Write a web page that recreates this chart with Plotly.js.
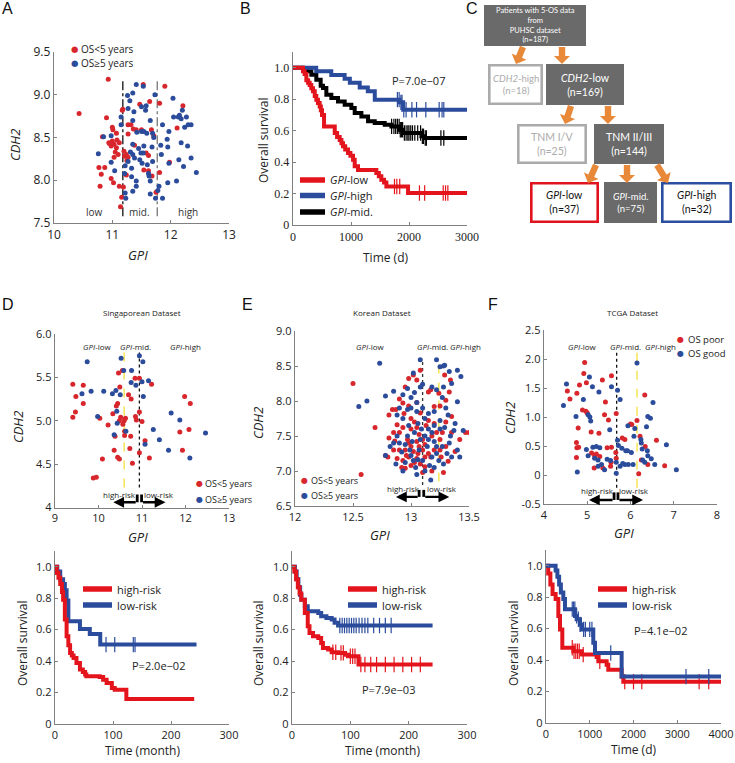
<!DOCTYPE html>
<html><head><meta charset="utf-8">
<script src="https://cdn.plot.ly/plotly-3.0.1.min.js"></script>
<style>html,body{margin:0;padding:0;background:#fff}#chart{width:735px;height:763px}</style>
</head><body><div id="chart"></div>
<script>
// ---------------- DATA ----------------
// Panel A: PUHSC dataset, [GPI, CDH2]
const A_poor = [[10.93,9.18],[10.43,8.78],[10.9,8.73],[11.0,8.62],[11.01,8.59],[10.83,8.51],[11.07,8.55],[10.94,8.44],[11.0,8.46],[11.03,8.42],[10.98,8.4],[11.07,8.38],[11.05,8.33],[11.12,8.44],[11.1,8.3],[11.03,8.27],[10.87,8.15],[10.77,8.15],[10.81,8.07],[10.79,7.93],[10.98,8.02],[11.02,7.97],[11.12,7.93],[11.16,7.8],[11.14,7.69],[11.18,8.83],[11.17,8.82],[11.27,8.65],[11.32,8.65],[11.27,8.54],[11.38,8.41],[11.24,8.3],[11.21,8.28],[11.27,8.27],[11.25,8.23],[11.24,8.06],[11.19,7.92],[11.41,8.59],[11.47,8.89],[11.53,9.12],[11.5,8.59],[11.67,8.59],[11.64,8.92],[11.58,8.32],[11.62,8.29],[11.71,8.52],[11.54,8.12],[11.62,8.11],[11.68,8.05],[11.75,7.86],[11.81,8.9],[11.81,8.09],[11.9,9.1],[12.11,8.61],[12.21,8.87],[11.98,8.21],[11.36,8.6],[11.08,8.47],[10.95,8.43],[11.2,8.34]];
const A_good = [[10.76,8.31],[10.85,8.51],[10.98,8.52],[10.98,8.21],[11.04,8.11],[11.15,8.74],[11.15,8.65],[11.22,8.17],[11.21,8.08],[11.22,7.85],[11.23,7.79],[11.26,8.99],[11.3,8.93],[11.35,9.02],[11.41,9.12],[11.53,9.1],[11.27,8.84],[11.37,8.8],[11.35,8.7],[11.42,8.56],[11.5,8.57],[11.54,8.57],[11.35,8.42],[11.31,8.33],[11.35,8.3],[11.38,8.26],[11.47,8.24],[11.51,8.2],[11.33,8.14],[11.33,8.04],[11.41,7.99],[11.41,7.93],[11.35,7.87],[11.5,8.86],[11.57,8.82],[11.58,8.87],[11.54,8.4],[11.49,8.32],[11.53,8.32],[11.6,8.18],[11.62,8.08],[11.63,8.05],[11.65,8.7],[11.69,8.55],[11.68,8.39],[11.69,8.22],[11.65,7.99],[11.65,7.84],[11.73,9.0],[11.71,8.5],[11.74,7.79],[11.78,7.88],[11.8,7.93],[11.83,8.41],[11.84,8.3],[11.86,7.79],[11.86,8.65],[11.94,8.48],[11.95,8.39],[11.97,8.57],[11.97,8.2],[11.95,7.97],[12.04,8.96],[12.05,8.74],[12.1,7.99],[12.13,8.74],[12.15,8.76],[12.18,8.72],[12.14,8.24],[12.2,8.82],[12.24,8.62],[12.18,8.44],[12.22,8.16],[12.27,8.74],[12.3,8.65],[12.35,8.65],[12.29,8.4],[12.35,8.26],[12.44,8.09],[11.27,8.22],[11.59,8.55],[11.45,8.37]];
const A_cuts = [11.18, 11.77];
const A_zoneLabels = ['low','mid.','high'];
const A_zoneX = [10.69, 11.46, 12.3];

// Panel B: Kaplan-Meier, time (d) vs survival
const B_low_t = [0,172,200,230,260,287,315,345,375,402,430,460,480,500,535,720,760,805,835,862,900,949,990,1035,1064,1121,1437,1480,1523,1570,1610,1984,3000];
const B_low_s = [1,0.977,0.96,0.92,0.905,0.89,0.87,0.85,0.82,0.797,0.775,0.754,0.73,0.70,0.627,0.585,0.56,0.54,0.52,0.5,0.48,0.458,0.44,0.415,0.373,0.35,0.33,0.31,0.288,0.27,0.245,0.203,0.203];
const B_low_cens = [1750,1790,1840,2180,2270,2590,2630,2670];
const B_high_t = [0,400,660,890,980,1150,1290,1410,1840,1900,3000];
const B_high_s = [1,0.977,0.953,0.93,0.905,0.875,0.85,0.797,0.78,0.733,0.733];
const B_high_cens = [1800,1830,1860,1880,1910,1950,2050,2130,2290,2520,2570,2600];
const B_mid_t = [0,172,230,316,402,477,517,575,661,776,891,1006,1064,1179,1294,1409,1581,1696,1840,1898,2214,2271,3000];
const B_mid_s = [1,0.985,0.977,0.955,0.924,0.886,0.871,0.828,0.807,0.786,0.765,0.744,0.712,0.69,0.659,0.648,0.638,0.627,0.606,0.585,0.564,0.553,0.553];
const B_mid_cens = [1700,1740,1770,1800,1830,1850,1870,1890,1920,1950,1980,2000,2030,2060,2100,2150,2200,2230,2250,2280,2300,2550,2600];
const B_pval = 'P=7.0e\u221207';

// Panel C: flowchart
const C_labels = ['Patients with 5-OS data<br>from<br>PUHSC dataset','<i>CDH2</i>-high','<i>CDH2</i>-low','TNM I/V','TNM II/III','<i>GPI</i>-low','<i>GPI</i>-mid.','<i>GPI</i>-high'];
const C_n = [187,18,169,25,144,37,75,32];

// Panel D: Singaporean dataset
const D_poor = [[9.41,5.42],[9.65,5.41],[9.48,5.28],[9.65,5.2],[10.46,5.55],[10.55,5.58],[10.49,5.39],[10.84,5.49],[10.94,5.49],[11.22,5.42],[10.69,5.3],[10.75,5.25],[10.44,5.2],[10.41,5.17],[9.47,5.1],[9.41,5.04],[10.03,5.03],[10.94,5.1],[10.51,5.04],[10.62,5.03],[10.59,5.0],[10.85,5.05],[10.87,5.01],[11.0,4.99],[11.98,5.28],[12.11,5.2],[10.22,4.95],[10.48,5.0],[11.87,4.87],[12.08,4.9],[10.38,4.82],[10.6,4.83],[10.74,4.82],[10.72,4.68],[10.36,4.66],[10.44,4.58],[10.48,4.56],[10.78,4.51],[10.94,4.63],[11.07,4.77],[11.17,4.57],[10.09,4.56],[9.88,4.34],[9.95,4.35],[11.93,4.66],[10.33,5.08],[10.56,4.96],[10.6,4.88]];
const D_good = [[9.74,5.68],[10.52,5.72],[10.94,5.75],[11.02,5.68],[10.76,5.58],[10.75,5.44],[10.86,5.41],[11.0,5.45],[11.15,5.46],[11.03,5.28],[9.62,5.31],[9.83,5.34],[10.12,5.34],[10.32,5.31],[10.4,5.35],[10.5,5.3],[9.98,5.05],[10.42,5.11],[11.67,5.09],[11.87,5.01],[11.26,4.9],[12.46,4.86],[10.36,4.84],[10.43,4.97],[10.63,4.88],[11.4,4.78],[11.07,4.73],[11.61,4.66],[12.1,4.57],[10.58,5.58]];
const D_cuts = {yellow:10.59, black:10.94};
const D_km_high_t = [0,3,6,9,12,14,17,20,23,26,29,32,37,43,48,52,54,77,83,89,98,103,123,240];
const D_km_high_s = [1,0.96,0.93,0.89,0.84,0.79,0.664,0.558,0.5,0.452,0.435,0.42,0.388,0.346,0.33,0.314,0.303,0.299,0.282,0.261,0.229,0.218,0.159,0.159];
const D_km_low_t = [0,4,9,14,17,20,23,43,60,78,244];
const D_km_low_s = [1,0.97,0.92,0.89,0.85,0.785,0.653,0.604,0.573,0.505,0.505];
const D_km_low_cens = [88,103,135,138];
const D_pval = 'P=2.0e\u221202';

// Panel E: Korean dataset
const E_poor = [[12.5,8.25],[13.02,8.37],[13.05,8.3],[13.08,8.44],[13.15,8.13],[13.17,8.16],[13.24,8.11],[13.29,8.37],[13.34,8.3],[13.3,8.01],[13.2,7.92],[13.25,7.93],[13.33,8.13],[12.98,8.32],[12.95,8.2],[12.9,8.03],[12.93,7.97],[12.98,7.93],[13.05,7.98],[12.87,7.88],[12.84,7.88],[12.81,7.8],[12.94,7.82],[13.0,7.75],[13.05,7.62],[12.69,7.62],[12.57,6.95],[12.78,7.22],[12.8,7.2],[12.81,7.47],[12.86,7.43],[12.88,7.66],[12.9,7.3],[12.92,7.05],[12.95,7.04],[12.96,7.22],[12.98,7.2],[13.0,7.35],[13.02,7.28],[13.03,7.12],[13.05,7.42],[13.06,7.25],[13.08,7.1],[13.1,7.3],[13.12,7.38],[13.15,7.25],[13.17,7.2],[13.18,7.5],[13.2,7.3],[13.22,7.55],[13.25,7.45],[13.26,7.2],[13.28,6.98],[13.3,7.35],[13.32,7.14],[13.35,7.55],[13.38,7.28],[13.42,7.45],[13.47,7.55],[13.5,7.55],[13.35,7.78],[13.3,7.7],[13.27,7.55],[12.85,7.55],[12.88,7.18],[12.93,7.62],[12.97,7.45],[13.0,7.6],[13.03,7.7],[13.07,7.52],[13.1,7.45],[13.13,7.65],[13.15,7.72],[13.2,7.68],[13.08,7.83],[12.98,7.4],[12.9,7.55],[13.0,7.08],[13.05,7.18],[13.12,7.06],[13.25,7.3],[12.95,7.3],[13.12,7.2],[13.18,7.0],[13.1,6.98],[12.85,7.3],[12.93,7.15],[13.07,7.35]];
const E_good = [[12.73,8.54],[12.62,8.0],[12.55,7.92],[12.78,8.07],[12.85,8.14],[13.08,8.59],[13.22,8.59],[13.25,8.49],[13.28,8.5],[13.29,8.51],[13.33,8.42],[13.4,8.44],[13.43,8.35],[13.4,7.99],[13.02,8.4],[12.97,8.18],[12.93,8.09],[13.0,8.05],[13.03,8.12],[13.1,8.24],[13.08,8.2],[13.05,7.98],[13.1,7.9],[13.18,8.2],[13.22,8.16],[13.28,8.2],[13.35,8.25],[13.27,8.05],[13.3,7.9],[13.2,7.85],[13.15,7.82],[12.97,7.88],[13.05,7.85],[12.78,7.22],[12.82,7.35],[12.85,7.4],[12.87,7.1],[12.9,7.4],[12.92,7.27],[12.95,7.12],[12.97,7.5],[12.99,7.3],[13.01,7.42],[13.02,7.15],[13.04,7.05],[13.05,6.95],[13.07,7.3],[13.08,7.45],[13.09,7.6],[13.1,7.15],[13.12,7.0],[13.14,7.35],[13.15,7.45],[13.17,6.87],[13.18,7.2],[13.2,7.42],[13.22,7.25],[13.24,7.15],[13.25,7.6],[13.27,7.35],[13.29,7.62],[13.31,7.25],[13.33,7.4],[13.35,7.2],[13.37,7.58],[13.4,7.3],[13.45,7.58],[13.38,7.68],[13.32,7.8],[13.25,7.72],[13.2,7.65],[13.15,7.6],[13.12,7.75],[13.03,7.55],[12.98,7.65],[12.93,7.75],[12.88,7.8],[12.9,7.9],[13.0,7.9],[13.12,7.5],[13.06,7.68],[13.2,7.05],[13.28,7.1],[13.0,7.22],[12.95,7.38],[12.88,7.5],[13.16,7.08],[13.22,7.35],[12.93,7.0],[13.06,7.16],[13.34,7.5],[13.42,7.2],[13.18,7.55]];
const E_cuts = {yellow:13.24, black:13.1};
const E_km_high_t = [0,4,7,10,13,16,22,27,30,36,45,50,53,62,68,79,91,96,114,241];
const E_km_high_s = [1,0.97,0.92,0.87,0.83,0.79,0.706,0.621,0.579,0.558,0.547,0.515,0.484,0.473,0.456,0.452,0.441,0.431,0.378,0.378];
const E_km_high_cens = [70,75,84,88,100,104,108,118,125,135,145,160,175,190,205,220];
const E_km_low_t = [0,5,8,11,14,16,22,27,45,50,59,68,73,79,241];
const E_km_low_s = [1,0.97,0.92,0.87,0.82,0.79,0.749,0.717,0.706,0.685,0.674,0.664,0.643,0.626,0.626];
const E_km_low_cens = [82,86,90,94,98,102,106,110,115,120,125,130,140,150,160,170];
const E_pval = 'P=7.9e\u221203';

// Panel F: TCGA dataset
const F_poor = [[4.94,1.94],[4.92,1.75],[5.56,1.71],[4.98,1.59],[5.35,1.64],[4.82,1.55],[4.54,1.45],[4.76,1.41],[4.6,1.31],[5.42,1.26],[4.89,1.12],[4.97,1.1],[5.0,1.07],[5.4,1.04],[5.49,0.95],[5.67,1.06],[6.03,0.87],[6.15,0.94],[6.33,1.38],[4.79,0.81],[5.27,0.72],[4.75,0.56],[4.76,0.47],[4.8,0.48],[4.75,0.3],[5.09,0.74],[5.56,0.48],[5.46,0.47],[5.81,0.64],[5.87,0.61],[6.0,0.88],[6.22,0.67],[6.34,0.49],[6.4,0.18],[6.25,0.26],[6.6,0.6],[6.79,0.16],[6.19,0.02],[5.66,0.39],[5.67,0.29],[5.17,0.33],[5.21,0.36],[5.29,0.32],[5.16,0.12],[5.36,0.12],[5.54,0.15],[5.55,0.22],[5.1,0.38]];
const F_good = [[4.52,1.57],[4.45,1.2],[4.91,1.3],[5.05,1.69],[5.12,1.52],[5.27,1.43],[5.56,1.52],[5.7,1.46],[5.76,1.3],[6.15,1.93],[4.74,1.01],[5.02,1.04],[5.06,1.0],[5.08,0.93],[5.52,0.78],[6.52,1.25],[6.4,1.01],[6.46,0.98],[6.37,0.83],[6.1,0.8],[4.77,0.05],[4.98,0.44],[5.13,0.48],[5.21,0.49],[5.29,0.47],[5.02,0.33],[5.17,0.29],[5.25,0.26],[5.33,0.18],[5.25,0.15],[5.4,0.09],[5.46,0.27],[5.54,0.25],[5.67,0.22],[5.67,0.03],[5.76,0.15],[5.82,0.2],[5.89,0.42],[5.93,0.42],[6.02,0.39],[6.06,0.18],[5.87,0.18],[5.95,0.18],[5.7,0.6],[5.72,0.51],[5.8,0.46],[6.08,0.67],[6.24,0.61],[6.25,0.55],[6.27,0.45],[6.39,0.42],[6.4,0.33],[6.48,0.28],[6.56,0.18],[6.33,0.22],[6.28,0.26],[6.83,0.52],[7.06,0.09],[5.94,0.85]];
const F_cuts = {yellow:6.15, black:5.68};
const F_km_high_t = [0,50,100,150,220,282,320,373,625,815,1158,1196,1386,1424,1729,1767,4000];
const F_km_high_s = [1,0.95,0.88,0.82,0.788,0.681,0.595,0.478,0.456,0.435,0.42,0.392,0.37,0.338,0.295,0.263,0.263];
const F_km_high_cens = [600,640,680,720,760,850,1230,1800,2000,2190,3500,3720];
const F_km_low_t = [0,220,260,300,340,396,434,663,701,777,815,1081,1120,1729,4000];
const F_km_low_s = [1,0.97,0.93,0.88,0.83,0.788,0.724,0.681,0.66,0.627,0.595,0.51,0.445,0.295,0.295];
const F_km_low_cens = [600,630,660,700,740,780,860,900,1000,1050,1480,3200,3720];
const F_pval = 'P=4.1e\u221202';

// ---------------- HELPERS ----------------
const W = 735, H = 763;
const PX = x => x / W, PY = y => 1 - y / H;
const FONT = 'Open Sans, sans-serif';
const RED = '#d8262d', BLUE = '#2b4b9b';
const KRED = '#e4141c', KBLUE = '#2b4c9c';
const GRAY = '#808080';
const xs = p => p.map(d => d[0]), ys = p => p.map(d => d[1]);
function stepAt(ts, ss, t) { let v = ss[0]; for (let i = 0; i < ts.length; i++) { if (ts[i] <= t) v = ss[i]; else break; } return v; }

function axis(dom, range, vals, text, anchor, fsize, ffam) {
  return {domain: dom, range: range, anchor: anchor, tickmode: 'array', tickvals: vals, ticktext: text,
    showline: true, linecolor: GRAY, linewidth: 1.3, ticks: 'inside', ticklen: 3, tickwidth: 1, tickcolor: GRAY,
    showgrid: false, zeroline: false, fixedrange: true,
    tickfont: {family: ffam || FONT, size: fsize || 11, color: '#222'}};
}
const ann = [];
const shapes = [];
function txt(x, y, text, size, opts) {
  ann.push(Object.assign({x: PX(x), y: PY(y), xref: 'paper', yref: 'paper', text: text, showarrow: false,
    font: {family: FONT, size: size, color: '#222'}, xanchor: 'center', yanchor: 'middle'}, opts || {}));
}
function dot(x, y, color, size) { txt(x, y, '\u25CF', size || 8, {font: {family: 'DejaVu Sans', size: size || 8, color: color}}); }
function legLine(x0, x1, y, color) {
  shapes.push({type: 'line', xref: 'paper', yref: 'paper', x0: PX(x0), x1: PX(x1), y0: PY(y), y1: PY(y), line: {color: color, width: 5.5}});
}

// ---------------- TRACES ----------------
const traces = [];
function sc(pts, color, xa, ya, name) {
  traces.push({type: 'scatter', mode: 'markers', x: xs(pts), y: ys(pts), xaxis: xa, yaxis: ya, name: name, showlegend: false,
    marker: {color: color, size: 5}, hoverinfo: 'x+y'});
}
function vline(xv, y0, y1, xa, ya, color, dash, w) {
  traces.push({type: 'scatter', mode: 'lines', x: [xv, xv], y: [y0, y1], xaxis: xa, yaxis: ya, showlegend: false,
    line: {color: color, dash: dash, width: w || 1.2}, hoverinfo: 'skip'});
}
function km(ts, ss, cens, color, xa, ya, name, w) {
  traces.push({type: 'scatter', mode: 'lines', x: ts, y: ss, xaxis: xa, yaxis: ya, name: name, showlegend: false,
    line: {color: color, width: w || 4, shape: 'hv'}});
  if (cens && cens.length) traces.push({type: 'scatter', mode: 'markers', x: cens, y: cens.map(t => stepAt(ts, ss, t)),
    xaxis: xa, yaxis: ya, showlegend: false, hoverinfo: 'skip',
    marker: {symbol: 'line-ns', size: 11, line: {color: color, width: 1.2}}});
}

// A
vline(A_cuts[0], 7.58, 9.19, 'x', 'y', '#111', 'dashdot', 1.3);
vline(A_cuts[1], 7.58, 9.19, 'x', 'y', '#777', 'dashdot', 1.3);
sc(A_poor, RED, 'x', 'y', 'OS<5 years');
sc(A_good, BLUE, 'x', 'y', 'OS\u22655 years');
// B
km(B_mid_t, B_mid_s, B_mid_cens, '#000', 'x2', 'y2', 'GPI-mid.');
km(B_high_t, B_high_s, B_high_cens, KBLUE, 'x2', 'y2', 'GPI-high');
km(B_low_t, B_low_s, B_low_cens, KRED, 'x2', 'y2', 'GPI-low');
// D/E/F scatter
const YEL = '#f2e13a';
vline(D_cuts.yellow, 4.23, 5.8, 'x3', 'y3', YEL, 'dash', 1.3);
vline(D_cuts.black, 4.23, 5.8, 'x3', 'y3', '#111', 'dot', 1.3);
sc(D_poor, RED, 'x3', 'y3', 'OS<5 years');
sc(D_good, BLUE, 'x3', 'y3', 'OS\u22655 years');
vline(E_cuts.black, 6.8, 8.59, 'x4', 'y4', '#333', 'dot', 1.3);
vline(E_cuts.yellow, 6.85, 8.59, 'x4', 'y4', YEL, 'dash', 1.3);
sc(E_poor, RED, 'x4', 'y4', 'OS<5 years');
sc(E_good, BLUE, 'x4', 'y4', 'OS\u22655 years');
vline(F_cuts.black, -0.22, 2.13, 'x5', 'y5', '#111', 'dot', 1.3);
vline(F_cuts.yellow, -0.22, 2.13, 'x5', 'y5', YEL, 'dash', 1.3);
sc(F_poor, RED, 'x5', 'y5', 'OS poor');
sc(F_good, BLUE, 'x5', 'y5', 'OS good');
// KM D/E/F
km(D_km_low_t, D_km_low_s, D_km_low_cens, KBLUE, 'x6', 'y6', 'low-risk');
km(D_km_high_t, D_km_high_s, [], KRED, 'x6', 'y6', 'high-risk');
km(E_km_low_t, E_km_low_s, E_km_low_cens, KBLUE, 'x7', 'y7', 'low-risk');
km(E_km_high_t, E_km_high_s, E_km_high_cens, KRED, 'x7', 'y7', 'high-risk');
km(F_km_high_t, F_km_high_s, F_km_high_cens, KRED, 'x8', 'y8', 'high-risk');
km(F_km_low_t, F_km_low_s, F_km_low_cens, KBLUE, 'x8', 'y8', 'low-risk');

// ---------------- AXES ----------------
const kmY = [0, 0.2, 0.4, 0.6, 0.8, 1.0], kmYt = ['0', '0.2', '0.4', '0.6', '0.8', '1.0'];
const layout = {
  width: W, height: H, margin: {l: 0, r: 0, t: 0, b: 0}, paper_bgcolor: '#fff', plot_bgcolor: 'rgba(0,0,0,0)',
  showlegend: false, font: {family: FONT},
  xaxis: axis([PX(54), PX(229)], [10, 13], [10, 11, 12, 13], ['10', '11', '12', '13'], 'y', 12),
  yaxis: axis([PY(223), PY(52)], [7.5, 9.5], [7.5, 8, 8.5, 9, 9.5], ['7.5', '8.0', '8.5', '9.0', '9.5'], 'x', 12),
  xaxis2: axis([PX(293), PX(467)], [0, 3000], [0, 1000, 2000, 3000], ['0', '1000', '2000', '3000'], 'y2', 12, 'Liberation Serif, serif'),
  yaxis2: axis([PY(225), PY(52)], [0, 1.1], kmY, kmYt, 'x2', 12, 'Liberation Serif, serif'),
  xaxis3: axis([PX(55), PX(229)], [9, 13], [9, 10, 11, 12, 13], ['9', '10', '11', '12', '13'], 'y3', 11),
  yaxis3: axis([PY(507.5), PY(334)], [4, 6], [4, 4.5, 5, 5.5, 6], ['4', '4.5', '5.0', '5.5', '6.0'], 'x3', 11),
  xaxis4: axis([PX(295), PX(469)], [12, 13.5], [12, 12.5, 13, 13.5], ['12', '12.5', '13', '13.5'], 'y4', 11),
  yaxis4: axis([PY(506), PY(331)], [6.5, 9], [6.5, 7, 7.5, 8, 8.5, 9], ['6.5', '7.0', '7.5', '8.0', '8.5', '9.0'], 'x4', 11),
  xaxis5: axis([PX(544), PX(717)], [4, 8], [4, 5, 6, 7, 8], ['4', '5', '6', '7', '8'], 'y5', 11),
  yaxis5: axis([PY(504), PY(330)], [-0.5, 2.5], [-0.5, 0, 0.5, 1, 1.5, 2, 2.5], ['-0.5', '0', '0.5', '1.0', '1.5', '2.0', '2.5'], 'x5', 11),
  xaxis6: axis([PX(55), PX(229)], [0, 300], [0, 100, 200, 300], ['0', '100', '200', '300'], 'y6', 11),
  yaxis6: axis([PY(724), PY(551)], [0, 1.1], kmY, kmYt, 'x6', 11),
  xaxis7: axis([PX(292), PX(467)], [0, 300], [0, 100, 200, 300], ['0', '100', '200', '300'], 'y7', 11),
  yaxis7: axis([PY(724), PY(551)], [0, 1.1], kmY, kmYt, 'x7', 11),
  xaxis8: axis([PX(546), PX(721)], [0, 4000], [0, 1000, 2000, 3000, 4000], ['0', '1000', '2000', '3000', '4000'], 'y8', 11),
  yaxis8: axis([PY(723), PY(550)], [0, 1.1], kmY, kmYt, 'x8', 11),
  annotations: ann, shapes: shapes
};

// ---------------- TEXT ----------------
// panel letters
[['A', 8, 9], ['B', 245, 9], ['C', 472, 9], ['D', 8, 305], ['E', 247, 305], ['F', 493, 305]].forEach(d =>
  txt(d[1], d[2], d[0], 16, {font: {family: 'Liberation Sans, Arial', size: 16, color: '#111'}}));
// axis titles
const it = s => '<i>' + s + '</i>';
txt(15, 145, it('CDH2'), 13, {textangle: -90});
txt(138, 255, it('GPI'), 13);
txt(263, 140, 'Overall survival', 12, {textangle: -90});
txt(385, 257, 'Time (d)', 12);
txt(18, 427, it('CDH2'), 13, {textangle: -90});
txt(138, 537, it('GPI'), 13);
txt(258, 423, it('CDH2'), 13, {textangle: -90});
txt(380, 535, it('GPI'), 13);
txt(510, 418, it('CDH2'), 13, {textangle: -90});
txt(624, 533, it('GPI'), 13);
txt(22, 643, 'Overall survival', 12, {textangle: -90});
txt(142, 750, 'Time (month)', 12);
txt(258, 643, 'Overall survival', 12, {textangle: -90});
txt(382, 750, 'Time (month)', 12);
txt(513, 643, 'Overall survival', 12, {textangle: -90});
txt(633, 749, 'Time (d)', 12);
// dataset titles
txt(142, 313, 'Singaporean Dataset', 8);
txt(382, 313, 'Korean Dataset', 8);
txt(632, 313, 'TCGA Dataset', 8);
// A zone labels
A_zoneLabels.forEach((l, i) => ann.push({x: A_zoneX[i], y: 7.63, xref: 'x', yref: 'y', text: l, showarrow: false,
  font: {family: FONT, size: 10, color: '#333'}}));
// A legend
dot(74, 49.5, RED, 8.5); txt(79, 49.5, 'OS&lt;5 years', 10, {xanchor: 'left'});
dot(74, 63.5, BLUE, 8.5); txt(79, 63.5, 'OS\u22655 years', 10, {xanchor: 'left'});
// B legend + p
legLine(300, 325, 180, KRED); txt(328, 180, it('GPI') + '-low', 11, {xanchor: 'left'});
legLine(300, 325, 195.5, KBLUE); txt(328, 195.5, it('GPI') + '-high', 11, {xanchor: 'left'});
legLine(300, 325, 212, '#000'); txt(328, 212, it('GPI') + '-mid.', 11, {xanchor: 'left'});
txt(418, 80, B_pval, 11);
// group labels D/E/F
[[97, 135, 185], [370, 432, 465], [582, 625, 660]].forEach(p => {
  txt(p[0], 346, it('GPI') + '-low', 8); txt(p[1], 346, it('GPI') + '-mid.', 8); txt(p[2], 346, it('GPI') + '-high', 8);
});
// scatter legends
dot(199, 483, RED, 8); txt(203, 483, 'OS&lt;5 years', 9, {xanchor: 'left'});
dot(199, 499, BLUE, 8); txt(203, 499, 'OS\u22655 years', 9, {xanchor: 'left'});
dot(304, 480, RED, 8); txt(309, 480, 'OS&lt;5 years', 9, {xanchor: 'left'});
dot(304, 496, BLUE, 8); txt(309, 496, 'OS\u22655 years', 9, {xanchor: 'left'});
dot(680, 339, RED, 8); txt(686, 339, 'OS poor', 9.5, {xanchor: 'left'});
dot(680, 353, BLUE, 8); txt(686, 353, 'OS good', 9.5, {xanchor: 'left'});
// risk brackets
function bracket(xa, ya, yA, yT, lt, li, ri, rt, hx, hy, lx, ly) {
  ann.push({x: lt, y: yA, ax: li, ay: yA, xref: xa, yref: ya, axref: xa, ayref: ya, text: '', showarrow: true, arrowhead: 2, arrowsize: 0.9, arrowwidth: 2.4, arrowcolor: '#000'});
  ann.push({x: rt, y: yA, ax: ri, ay: yA, xref: xa, yref: ya, axref: xa, ayref: ya, text: '', showarrow: true, arrowhead: 2, arrowsize: 0.9, arrowwidth: 2.4, arrowcolor: '#000'});
  shapes.push({type: 'line', xref: xa, yref: ya, x0: li, x1: li, y0: yA, y1: yT, line: {color: '#000', width: 2.8}});
  shapes.push({type: 'line', xref: xa, yref: ya, x0: ri, x1: ri, y0: yA, y1: yT, line: {color: '#000', width: 2.8}});
  txt(hx, hy, 'high-risk', 8); txt(lx, ly, 'low-risk', 8);
}
bracket('x3', 'y3', 4.06, 4.15, 10.34, 10.89, 10.99, 11.54, 120, 494, 159, 494);
bracket('x4', 'y4', 6.63, 6.73, 12.87, 13.07, 13.11, 13.33, 403, 488, 442, 488);
bracket('x5', 'y5', -0.43, -0.3, 5.04, 5.62, 5.71, 6.29, 597, 491, 634, 491);
// KM legends + p
[[83, 112, 115], [348, 377, 380], [598, 627, 630]].forEach(p => {
  legLine(p[0], p[1], 589, KRED); txt(p[2], 589, 'high-risk', 11, {xanchor: 'left'});
  legLine(p[0], p[1], 605, KBLUE); txt(p[2], 605, 'low-risk', 11, {xanchor: 'left'});
});
txt(158, 665, D_pval, 11);
txt(388, 689, E_pval, 11);
txt(660, 630, F_pval, 11);

// ---------------- FLOWCHART (C) ----------------
const DARK = '#6a6a6a', LG = '#ababab';
const boxes = [
  [484, 5, 586, 46, 'fill', '#fff'],
  [488, 64, 543, 105, LG, LG],
  [546, 64, 624, 105, 'fill', '#fff'],
  [517, 124, 587, 164, LG, LG],
  [594, 124, 664, 164, 'fill', '#fff'],
  [530, 182, 599, 223, '#e0141e', '#111'],
  [604, 182, 657, 223, 'fill', '#fff'],
  [661, 182, 732, 223, '#2a4ea0', '#111']
];
boxes.forEach((b, i) => {
  if (b[4] === 'fill') {
    shapes.push({type: 'rect', xref: 'paper', yref: 'paper', x0: PX(b[0]), x1: PX(b[2]), y0: PY(b[3]), y1: PY(b[1]), fillcolor: DARK, line: {width: 0}});
  } else {
    shapes.push({type: 'rect', xref: 'paper', yref: 'paper', x0: PX(b[0] + 1.3), x1: PX(b[2] - 1.3), y0: PY(b[3] - 1.3), y1: PY(b[1] + 1.3), fillcolor: '#fff', line: {width: 2.6, color: b[4]}});
  }
  const cx = (b[0] + b[2]) / 2, cy = (b[1] + b[3]) / 2;
  const fs = i === 0 ? 7.5 : (i === 1 || i === 6 ? 9.5 : 10.5);
  ann.push({x: PX(cx), y: PY(cy), xref: 'paper', yref: 'paper', showarrow: false, text: C_labels[i] + '<br>(n=' + C_n[i] + ')',
    font: {family: 'Lato, sans-serif', size: fs, color: b[5]}, align: 'center', xanchor: 'center', yanchor: 'middle'});
});
function blockArrow(x0, y0, x1, y1) {
  const dx = x1 - x0, dy = y1 - y0, L = Math.hypot(dx, dy);
  const ux = dx / L, uy = dy / L, nx = -uy, ny = ux;
  const sw = 3.2, hw = 8, hl = 8;
  const bx = x1 - ux * hl, by = y1 - uy * hl;
  const pts = [[x0 + nx * sw, y0 + ny * sw], [bx + nx * sw, by + ny * sw], [bx + nx * hw, by + ny * hw], [x1, y1],
    [bx - nx * hw, by - ny * hw], [bx - nx * sw, by - ny * sw], [x0 - nx * sw, y0 - ny * sw]];
  const path = 'M' + pts.map(p => PX(p[0]).toFixed(5) + ',' + PY(p[1]).toFixed(5)).join(' L') + ' Z';
  shapes.push({type: 'path', xref: 'paper', yref: 'paper', path: path, fillcolor: '#e8893a', line: {width: 0}});
}
blockArrow(523, 47, 516, 64);
blockArrow(562, 47, 562, 64);
blockArrow(571, 106, 565, 124);
blockArrow(608, 106, 608, 124);
blockArrow(596, 165, 588, 183);
blockArrow(627, 165, 627, 183);
blockArrow(657, 165, 668, 183);

Plotly.newPlot('chart', traces, layout, {staticPlot: true, displayModeBar: false});
</script></body></html>
